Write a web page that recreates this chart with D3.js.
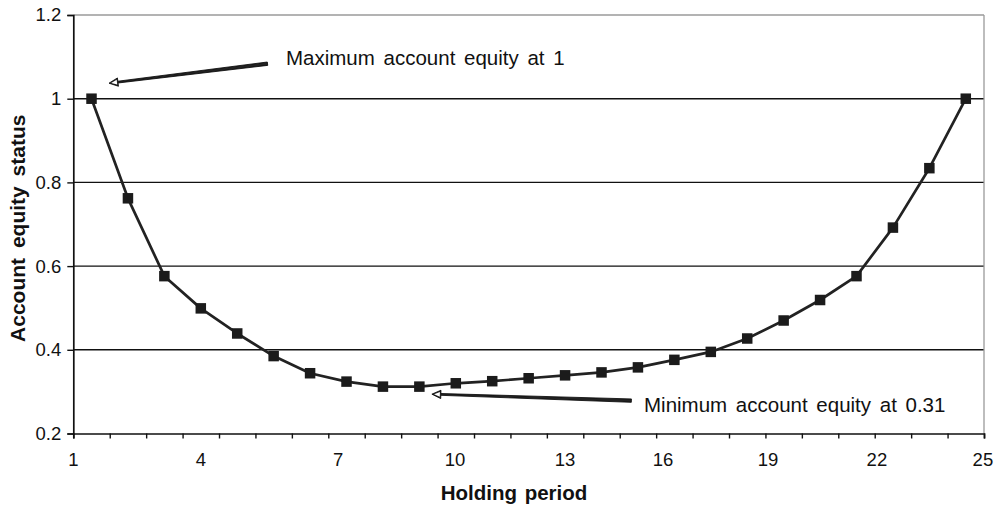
<!DOCTYPE html>
<html>
<head>
<meta charset="utf-8">
<script src="https://cdn.jsdelivr.net/npm/d3@7"></script>
<style>
  html, body { margin: 0; padding: 0; background: #fff; }
  svg { display: block; }
  text { font-family: "Liberation Sans", Arial, Helvetica, sans-serif; fill: #111; }
</style>
</head>
<body>
<svg id="chart" width="1002" height="508"></svg>
<script>
// ---- data ----
const categories = d3.range(1, 26);               // holding periods 1..25
const equity = [1.0, 0.762, 0.576, 0.499, 0.439, 0.385, 0.344, 0.324, 0.312, 0.312,
                0.320, 0.325, 0.332, 0.339, 0.346, 0.358, 0.376, 0.395, 0.427, 0.470,
                0.519, 0.576, 0.692, 0.834, 1.0];
const yTicks = [0.2, 0.4, 0.6, 0.8, 1.0, 1.2];
const yTickLabels = ["0.2", "0.4", "0.6", "0.8", "1", "1.2"];
const xTickLabels = ["1", "4", "7", "10", "13", "16", "19", "22", "25"];
const xTickLabelAt = [0, 3.5, 7.27, 10.48, 13.5, 16.19, 19.07, 22.06, 24.97]; // in category-boundary units
const annotations = [
  {text: "Maximum account equity at 1", cat: 1, value: 1.0},
  {text: "Minimum account equity at 0.31", cat: 10, value: 0.312}
];

// ---- layout ----
const svg = d3.select("#chart");
const L = 73.3, R = 984, T = 15, B = 433.5;

const xb = d3.scaleLinear().domain([0, categories.length]).range([L, R]);
const x = d3.scaleBand().domain(categories).range([L, R]).paddingInner(0).paddingOuter(0);
const y = d3.scaleLinear().domain([0.2, 1.2]).range([B, T]);
const cx = c => x(c) + x.bandwidth() / 2;

svg.append("rect").attr("width", 1002).attr("height", 508).attr("fill", "#fff");

// gridlines
svg.append("g").selectAll("line").data(yTicks.filter(v => v > 0.2 && v < 1.2)).join("line")
  .attr("x1", L).attr("x2", R).attr("y1", d => y(d)).attr("y2", d => y(d))
  .attr("stroke", "#111").attr("stroke-width", 1.4);

// plot border top/right (gray)
svg.append("line").attr("x1", L).attr("x2", R).attr("y1", y(1.2)).attr("y2", y(1.2))
  .attr("stroke", "#9a9a9a").attr("stroke-width", 1.3);
svg.append("line").attr("x1", R).attr("x2", R).attr("y1", T).attr("y2", B)
  .attr("stroke", "#9a9a9a").attr("stroke-width", 1.3);

// y axis
const yAxis = d3.axisLeft(y).tickValues(yTicks).tickSize(6).tickPadding(6)
  .tickFormat((d, i) => yTickLabels[i]);
const gy = svg.append("g").attr("transform", `translate(${L},0)`).call(yAxis);
gy.select(".domain").attr("stroke", "#111").attr("stroke-width", 1.7);
gy.selectAll(".tick line").attr("stroke", "#111").attr("stroke-width", 1.4);
gy.selectAll(".tick text").attr("font-size", 18.5).attr("fill", "#111")
  .attr("font-family", "Liberation Sans, Arial, sans-serif");

// x axis: ticks at category boundaries
const xAxis = d3.axisBottom(xb).tickValues(d3.range(0, categories.length + 1)).tickSize(5).tickFormat("");
const gx = svg.append("g").attr("transform", `translate(0,${B})`).call(xAxis);
gx.select(".domain").attr("stroke", "#111").attr("stroke-width", 1.7);
gx.selectAll(".tick line").attr("stroke", "#111").attr("stroke-width", 1.4);

svg.append("g").selectAll("text").data(xTickLabels).join("text")
  .attr("x", (d, i) => xb(xTickLabelAt[i])).attr("y", B + 32.5)
  .attr("text-anchor", "middle").attr("font-size", 18.5)
  .text(d => d);

// axis titles
svg.append("text").attr("x", 514).attr("y", 500)
  .attr("text-anchor", "middle").attr("font-size", 20.5).attr("font-weight", "bold")
  .attr("word-spacing", 2)
  .text("Holding period");
svg.append("text").attr("transform", `translate(25,${(T + B) / 2 + 4}) rotate(-90)`)
  .attr("text-anchor", "middle").attr("font-size", 21).attr("font-weight", "bold")
  .attr("word-spacing", 4)
  .text("Account equity status");

// series line
const line = d3.line().x((d, i) => cx(categories[i])).y(d => y(d));
svg.append("path").datum(equity).attr("d", line)
  .attr("fill", "none").attr("stroke", "#222").attr("stroke-width", 2.7)
  .attr("stroke-linejoin", "round");

// markers
const ms = 10.5;
svg.append("g").selectAll("rect").data(equity).join("rect")
  .attr("x", (d, i) => cx(categories[i]) - ms / 2)
  .attr("y", d => y(d) - ms / 2)
  .attr("width", ms).attr("height", ms).attr("fill", "#1b1b1b");

// annotations with block arrows
function blockArrow(x0, y0, x1, y1) {
  // x0,y0 = tip ; x1,y1 = tail
  const dx = x1 - x0, dy = y1 - y0, len = Math.hypot(dx, dy);
  const ux = dx / len, uy = dy / len, nx = -uy, ny = ux;
  const headL = 9, headW = 4.2, shaftTip = 0.9, shaftTail = 1.7;
  const hx = x0 + ux * headL, hy = y0 + uy * headL;
  const pts = [
    [x0, y0],
    [hx + nx * headW, hy + ny * headW],
    [hx + nx * shaftTip, hy + ny * shaftTip],
    [x1 + nx * shaftTail, y1 + ny * shaftTail],
    [x1 - nx * shaftTail, y1 - ny * shaftTail],
    [hx - nx * shaftTip, hy - ny * shaftTip],
    [hx - nx * headW, hy - ny * headW]
  ];
  const g = svg.append("g");
  g.append("polygon").attr("points", pts.map(p => p.join(",")).join(" "))
    .attr("fill", "#222").attr("stroke", "#000").attr("stroke-width", 0.8);
  g.append("polygon").attr("points", [
      [x0 + ux * 2.2, y0 + uy * 2.2],
      [hx - ux * 1 + nx * (headW - 1.8), hy - uy * 1 + ny * (headW - 1.8)],
      [hx - ux * 1 - nx * (headW - 1.8), hy - uy * 1 - ny * (headW - 1.8)]
    ].map(p => p.join(",")).join(" ")).attr("fill", "#fff");
}

// Maximum annotation
blockArrow(cx(annotations[0].cat) + 17.5, y(annotations[0].value) - 15.5,
           cx(annotations[0].cat) + 176, y(annotations[0].value) - 35);
svg.append("text").attr("x", 286).attr("y", 64.5).attr("font-size", 20.5)
  .attr("word-spacing", 3)
  .text(annotations[0].text);

// Minimum annotation
blockArrow(cx(annotations[1].cat) + 12.5, y(annotations[1].value) + 7.5,
           cx(annotations[1].cat) + 212, y(annotations[1].value) + 14);
svg.append("text").attr("x", 644).attr("y", 411.5).attr("font-size", 20.5)
  .attr("word-spacing", 3)
  .text(annotations[1].text);
</script>
</body>
</html>
